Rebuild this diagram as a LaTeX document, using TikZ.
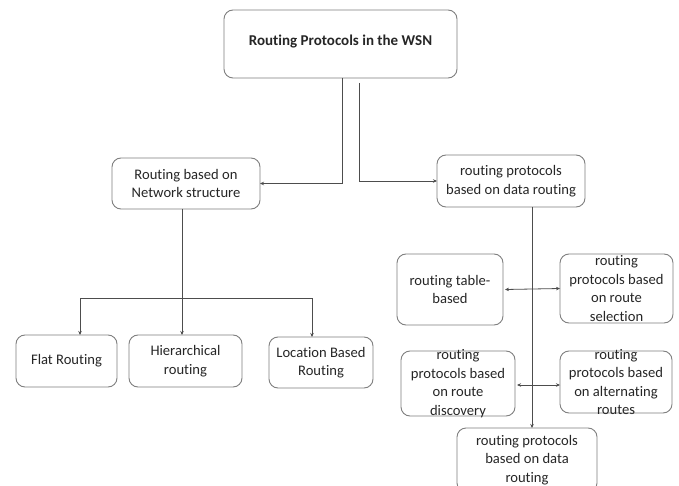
\documentclass[tikz,border=0pt]{standalone}
\usepackage{fontspec}
\setmainfont{Carlito}[Ligatures=NoCommon]
\usetikzlibrary{arrows.meta}
\definecolor{txtc}{HTML}{262626}
\definecolor{edgec}{HTML}{7F7F7F}
\definecolor{linec}{HTML}{4D4D4D}
\tikzset{
  box/.style={draw=edgec, line width=0.9pt, rounded corners=9pt, fill=white,
    inner sep=0pt, outer sep=0pt},
  txt/.style={text=txtc, align=center, inner sep=0pt,
    font=\fontsize{14.6}{18.5}\selectfont},
  wire/.style={draw=linec, line width=0.8pt},
  arr/.style={wire, -{Stealth[length=4pt,width=3.5pt]}},
  darr/.style={wire, {Stealth[length=4pt,width=3.5pt]}-{Stealth[length=4pt,width=3.5pt]}}
}
\begin{document}
\begin{tikzpicture}[x=1pt,y=-1pt]
\useasboundingbox (0,0) rectangle (679,486);
\clip (0,0) rectangle (679,486);
\fill[white] (0,0) rectangle (679,486);

% title
\node[box, minimum width=233, minimum height=68,
  label={[txt, font=\fontsize{15}{18}\selectfont\bfseries, yshift=2pt]center:Routing Protocols in the WSN}]
  (top) at (340.5,44) {};

% first level
\node[box, minimum width=148, minimum height=51,
  label={[txt]center:Routing based on\\Network structure}] (net) at (186,183.5) {};
\node[box, minimum width=148, minimum height=52,
  label={[txt]center:routing protocols\\based on data routing}] (data) at (511,181) {};

% network structure branch
\node[box, minimum width=101, minimum height=52,
  label={[txt]center:Flat Routing}] (flat) at (66.5,361) {};
\node[box, minimum width=113, minimum height=52,
  label={[txt]center:Hierarchical\\routing}] (hier) at (185.5,361) {};
\node[box, minimum width=104, minimum height=51,
  label={[txt]center:Location Based\\Routing}] (loc) at (321,362.5) {};

% data routing branch
\node[box, minimum width=106, minimum height=71,
  label={[txt]center:routing table-\\based}] (tab) at (450,289.5) {};
\node[box, minimum width=113, minimum height=69,
  label={[txt]center:routing\\protocols based\\on route\\selection}] (sel) at (616.5,288.5) {};
\node[box, minimum width=114, minimum height=65,
  label={[txt]center:routing\\protocols based\\on route\\discovery}] (disc) at (458,383.5) {};
\node[box, minimum width=112, minimum height=62,
  label={[txt]center:routing\\protocols based\\on alternating\\routes}] (alt) at (616,382) {};
\node[box, minimum width=140, minimum height=64,
  label={[txt]center:routing protocols\\based on data\\routing}] (bot) at (527,460) {};

% connectors from the title
\coordinate (tl) at (342,0);
\coordinate (tr) at (359,83);
\draw[arr] (top.south -| tl) |- (net.east);
\draw[arr] (tr) |- (data.west);

% network structure fan-out
\coordinate (bl) at (80,298);
\coordinate (br) at (312,298);
\coordinate (hx) at (182,0);
\draw[arr] (net.south -| hx) -- (hier.north -| hx);
\draw[wire] (bl) -- (br);
\draw[arr] (bl) -- (bl |- flat.north);
\draw[arr] (br) -- (br |- loc.north);

% data routing spine
\coordinate (vx) at (532,0);
\draw[arr] (data.south -| vx) -- (bot.north -| vx);
\draw[darr] ([xshift=2pt]tab.east) -- (sel.west);
\draw[darr] ([xshift=2pt,yshift=-1.5pt]disc.east) -- ([yshift=-1.5pt]disc.east -| alt.west);
\end{tikzpicture}
\end{document}
